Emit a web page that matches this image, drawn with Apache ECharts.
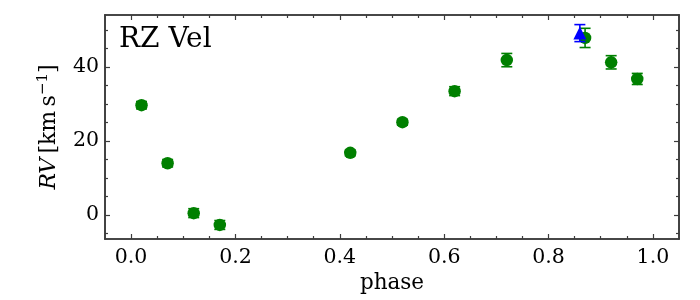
<!DOCTYPE html>
<html><head><meta charset="utf-8">
<script src="https://cdn.jsdelivr.net/npm/echarts@6/dist/echarts.min.js"></script>
<style>html,body{margin:0;padding:0;background:#fff}#c{width:700px;height:300px}</style>
</head><body><div id="c"></div>
<script>
// phase, RV, error
const greenPhase = [0.02, 0.07, 0.12, 0.17, 0.42, 0.52, 0.62, 0.72, 0.87, 0.92, 0.97];
const greenRV    = [29.7, 14.0, 0.5, -2.7, 16.8, 25.1, 33.5, 41.9, 47.9, 41.3, 36.8];
const greenErr   = [1.0, 1.0, 1.2, 1.2, 0.8, 0.8, 1.2, 1.8, 2.6, 1.8, 1.5];
const bluePhase = [0.86];
const blueRV    = [49.2];
const blueErr   = [2.3];
const xMajor = [0.0, 0.2, 0.4, 0.6, 0.8, 1.0];
const xMinor = [0.05, 0.1, 0.15, 0.25, 0.3, 0.35, 0.45, 0.5, 0.55, 0.65, 0.7, 0.75, 0.85, 0.9, 0.95];
const yMajor = [0, 20, 40];
const yMinor = [-5, 5, 10, 15, 25, 30, 35, 45, 50];
const starName = 'RZ Vel';

const FONT = 'DejaVu Serif';
const FRAME = '#3c3c3c';
const XMIN = -0.05, XMAX = 1.05, YMIN = -6.5, YMAX = 54.1;

function rows(p, v, e){ return p.map((x,i)=>[x, v[i], e[i]]); }
const greenData = rows(greenPhase, greenRV, greenErr);
const blueData = rows(bluePhase, blueRV, blueErr);

function errRender(color){
  return function(params, api){
    const x = api.value(0), y = api.value(1), e = api.value(2);
    const t = api.coord([x, y + e]), b = api.coord([x, y - e]);
    const w = 5.5;
    const st = {stroke: color, lineWidth: 1.6};
    return {type:'group', children:[
      {type:'line', shape:{x1:t[0], y1:t[1], x2:b[0], y2:b[1]}, style:st},
      {type:'line', shape:{x1:t[0]-w, y1:t[1], x2:t[0]+w, y2:t[1]}, style:st},
      {type:'line', shape:{x1:b[0]-w, y1:b[1], x2:b[0]+w, y2:b[1]}, style:st}
    ]};
  };
}

function xAx(pos, vals, len, labels, extra){
  return Object.assign({
    type:'value', position:pos, min:XMIN, max:XMAX,
    axisLine:{show:true, onZero:false, lineStyle:{color:FRAME, width:1.6}},
    axisTick:{show:true, inside:true, length:len, customValues:vals, lineStyle:{color:FRAME, width:1.2}},
    axisLabel:{show:labels, customValues:vals, margin:8, color:'#000', fontFamily:FONT, fontSize:20.5,
      formatter:v=>Number(v).toFixed(1)},
    splitLine:{show:false}
  }, extra||{});
}
function yAx(pos, vals, len, labels, extra){
  return Object.assign({
    type:'value', position:pos, min:YMIN, max:YMAX,
    axisLine:{show:true, onZero:false, lineStyle:{color:FRAME, width:1.6}},
    axisTick:{show:true, inside:true, length:len, customValues:vals, lineStyle:{color:FRAME, width:1.2}},
    axisLabel:{show:labels, customValues:vals, margin:6, color:'#000', fontFamily:FONT, fontSize:20.5,
      formatter:v=>String(Math.round(v))},
    splitLine:{show:false}
  }, extra||{});
}

const chart = echarts.init(document.getElementById('c'), null, {renderer:'canvas'});
chart.setOption({
  animation:false,
  grid:{left:105, right:21, top:15, bottom:61, containLabel:false},
  xAxis:[
    xAx('bottom', xMajor, 5, true, {name:'phase', nameLocation:'middle', nameGap:33,
      nameTextStyle:{fontFamily:FONT, fontSize:21.5, color:'#000'}}),
    xAx('bottom', xMinor, 3, false),
    xAx('top', xMajor, 5, false),
    xAx('top', xMinor, 3, false)
  ],
  yAxis:[
    yAx('left', yMajor, 5, true, {
      name:'{it|RV}{n|\u2009[km\u2009s}{sup|\u22121}{n|]}',
      nameLocation:'middle', nameGap:42, nameRotate:90,
      nameTextStyle:{fontFamily:FONT, fontSize:22, color:'#000',
        rich:{
          it:{fontFamily:FONT, fontStyle:'italic', fontSize:22, color:'#000', lineHeight:27, verticalAlign:'middle'},
          n:{fontFamily:FONT, fontSize:22, color:'#000', lineHeight:27, verticalAlign:'middle'},
          sup:{fontFamily:FONT, fontSize:15, color:'#000', lineHeight:15, verticalAlign:'top'}
        }}
    }),
    yAx('left', yMinor, 3, false),
    yAx('right', yMajor, 5, false),
    yAx('right', yMinor, 3, false)
  ],
  graphic:[{type:'text', left:119, top:26, z:10,
    style:{text:starName, fontFamily:FONT, fontSize:28, fill:'#000'}}],
  series:[
    {type:'custom', xAxisIndex:0, yAxisIndex:0, data:greenData, encode:{x:0,y:1}, renderItem:errRender('#008000'), z:2, silent:true},
    {type:'scatter', xAxisIndex:0, yAxisIndex:0, data:greenData, encode:{x:0,y:1}, symbol:'circle', symbolSize:12.5,
      itemStyle:{color:'#008000', opacity:1}, z:3},
    {type:'custom', xAxisIndex:0, yAxisIndex:0, data:blueData, encode:{x:0,y:1}, renderItem:errRender('#0000ff'), z:4, silent:true},
    {type:'scatter', xAxisIndex:0, yAxisIndex:0, data:blueData, encode:{x:0,y:1}, symbol:'triangle', symbolSize:13,
      itemStyle:{color:'#0000ff', opacity:1}, z:5}
  ]
});
</script></body></html>
